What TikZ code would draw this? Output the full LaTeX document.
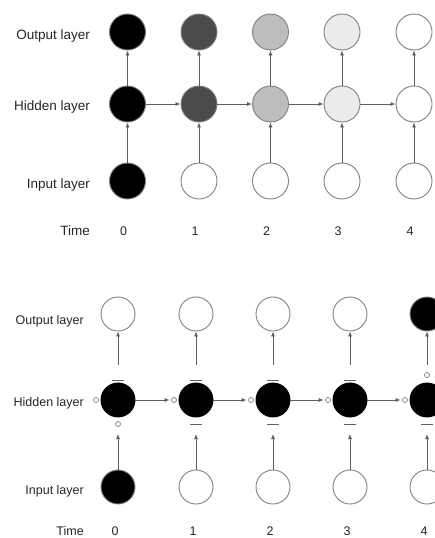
\documentclass[tikz,border=0pt]{standalone}
\usepackage{fontspec}
\setmainfont{Liberation Sans}
\usetikzlibrary{arrows.meta}
\definecolor{lc}{HTML}{5F5F5F}
\definecolor{bc}{HTML}{808080}
\definecolor{gA}{HTML}{4B4B4B}
\definecolor{gB}{HTML}{BDBDBD}
\definecolor{gC}{HTML}{EBEBEB}
\tikzset{
  neur/.style={circle, draw=bc, line width=0.9pt, minimum size=36pt, inner sep=0pt},
  neurb/.style={circle, draw=bc, line width=0.9pt, minimum size=34pt, inner sep=0pt},
  conn/.style={draw=lc, line width=0.8pt, -{Latex[length=5pt,width=4pt]}},
  lbl/.style={anchor=east, font=\fontsize{13.5}{15}\selectfont, text=black!85, inner sep=0pt},
  lblb/.style={anchor=east, font=\fontsize{12.5}{14}\selectfont, text=black!85, inner sep=0pt},
  num/.style={font=\fontsize{12.5}{14}\selectfont, text=black!85, inner sep=0pt},
  dot/.style={circle, draw=bc, line width=0.7pt, minimum size=5pt, inner sep=0pt},
  barl/.style={draw=lc, line width=0.9pt},
}
\begin{document}
\begin{tikzpicture}[x=1pt,y=-1pt]
\useasboundingbox (0,0) rectangle (435,538);
\clip (0,0) rectangle (435,538);
% ---------- top panel ----------
\node[lbl] (tlo) at (90,36) {Output layer};
\node[lbl] (tlh) at (90,107) {Hidden layer};
\node[lbl] (tli) at (90,185) {Input layer};
\node[lbl] (tlt) at (90,231) {Time};
\foreach \i/\x/\f/\inf in {0/127.5/black/black, 1/199/gA/white, 2/270.5/gB/white, 3/342/gC/white, 4/414/white/white}{
  \node[neur, fill=\f] (to\i) at (\x,32) {};
  \node[neur, fill=\f] (th\i) at (\x,104) {};
  \node[neur, fill=\inf] (ti\i) at (\x,181) {};
  \node[num] (tn\i) at (\x-4,231) {\i};
  \draw[conn] (ti\i) -- (th\i);
  \draw[conn] (th\i) -- (to\i);
}
\foreach \i/\j in {0/1,1/2,2/3,3/4}{
  \draw[conn] (th\i) -- (th\j);
}
% ---------- bottom panel ----------
\node[lblb] (blo) at (84,321) {Output layer};
\node[lblb] (blh) at (84,403) {Hidden layer};
\node[lblb] (bli) at (84,491) {Input layer};
\node[lblb] (blt) at (84,531) {Time};
\foreach \i/\x/\of/\inf in {0/118/white/black, 1/196/white/white, 2/273/white/white, 3/350/white/white, 4/427/black/white}{
  \node[neurb, fill=\of] (bo\i) at (\x,314) {};
  \node[neurb, fill=black, draw=black] (bh\i) at (\x,400) {};
  \node[neurb, fill=\inf] (bi\i) at (\x,487) {};
  \node[num] (bn\i) at (\x-3,531) {\i};
  \node[dot] (bl\i) at (\x-22,400) {};
  \coordinate (bu\i) at (\x,434);
  \coordinate (bs\i) at (\x,365);
  \draw[conn] (bi\i) -- (bu\i);
  \draw[conn] (bs\i) -- (bo\i);
}
\foreach \i in {0,1,2,3}{
  \draw[barl] ([xshift=-6pt]bh\i.north |- 0,380) -- ([xshift=6pt]bh\i.north |- 0,380);
}
\foreach \i in {1,2,3,4}{
  \draw[barl] ([xshift=-6pt]bh\i.south |- 0,424) -- ([xshift=6pt]bh\i.south |- 0,424);
}
\node[dot] (bd0) at (118,424) {};
\node[dot] (bd4) at (427,375) {};
\foreach \i/\j in {0/1,1/2,2/3,3/4}{
  \draw[conn, shorten >=1.5pt] (bh\i.east) -- (bl\j.west);
}
\end{tikzpicture}
\end{document}
